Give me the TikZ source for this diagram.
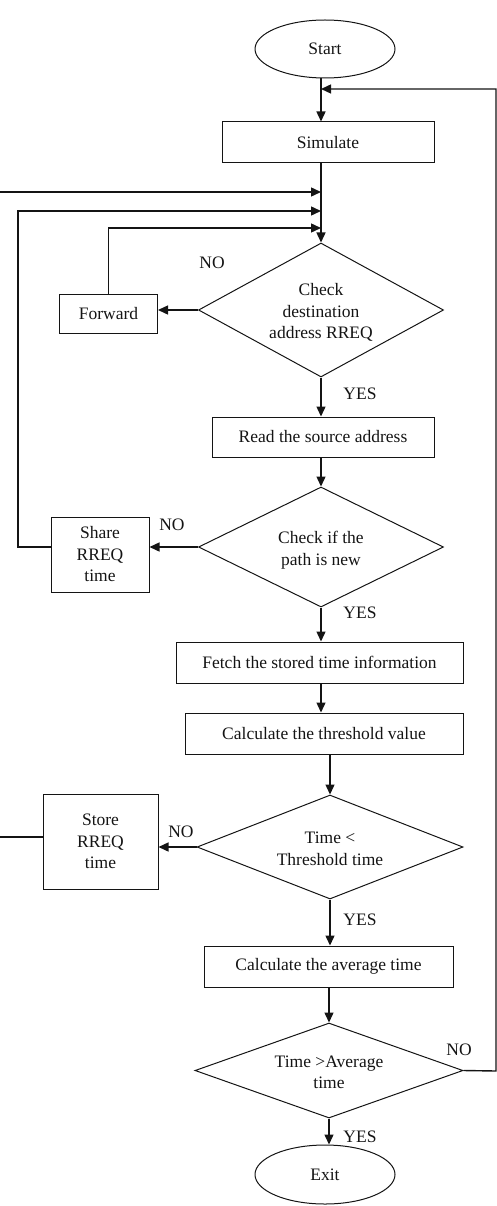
\documentclass[tikz,border=0pt]{standalone}
\usepackage{fontspec}
\setmainfont{Liberation Serif}
\usetikzlibrary{shapes.geometric, arrows.meta, positioning, calc}
\definecolor{Ink}{HTML}{141414}
\newcommand{\choicetext}[1]{\raisebox{-15pt}{\smash{\makebox[0pt]{\begin{tabular}{@{}c@{}}#1\end{tabular}}}}}

\begin{document}
\begin{tikzpicture}[x=1pt, y=-1pt,
    every node/.style={font=\fontsize{17.5}{21.5}\selectfont, text=Ink},
    procbox/.style={draw=Ink, line width=1pt, rectangle, inner sep=0pt, align=center},
    choice/.style={draw=Ink, line width=1pt, diamond, inner sep=0pt},
    terminal/.style={draw=Ink, line width=1pt, ellipse, inner sep=0pt},
    flow/.style={draw=Ink, line width=1.4pt, -{Triangle[length=10pt, width=9pt]}},
    answer/.style={inner sep=0pt}]
    \useasboundingbox (0, 0) rectangle (497, 1206);

    % Main column
    \node[terminal, minimum width=140, minimum height=58] (start) at (325, 49) {Start};
    \node[procbox, minimum width=212, minimum height=41] (sim) at (328, 142.5) {Simulate};
    \node[choice, minimum width=245, minimum height=134] (dest) at (321, 310) {\choicetext{Check\\destination\\address RREQ}};
    \node[procbox, minimum width=222, minimum height=40] (read) at (323, 437) {Read the source address};
    \node[choice, minimum width=245, minimum height=120] (path) at (321, 547) {\choicetext{Check if the\\path is new}};
    \node[procbox, minimum width=287, minimum height=41] (fetch) at (319.5, 662.5) {Fetch the stored time information};
    \node[procbox, minimum width=278, minimum height=41] (thresh) at (324, 733.5) {Calculate the threshold value};
    \node[choice, minimum width=266, minimum height=104] (below) at (330, 847) {\choicetext{Time <\\Threshold time}};
    \node[procbox, minimum width=249, minimum height=41] (avg) at (328.5, 966.5) {Calculate the average time};
    \node[choice, minimum width=268, minimum height=95] (above) at (329, 1070.5) {\choicetext{Time >Average\\time}};
    \node[terminal, minimum width=140, minimum height=59] (exit) at (325, 1174.5) {Exit};

    % Side boxes
    \node[procbox, minimum width=98, minimum height=39] (fwd) at (108.5, 313.5) {Forward};
    \node[procbox, minimum width=98, minimum height=75] (share) at (100, 554.5) {Share\\RREQ\\time};
    \node[procbox, minimum width=115, minimum height=95] (store) at (100.5, 841.5) {Store\\RREQ\\time};

    % Junctions on the trunk
    \coordinate (top) at (321, 89);
    \coordinate (m1) at (321, 192);
    \coordinate (m2) at (321, 211);
    \coordinate (m3) at (321, 228);
    \coordinate (sl) at (18, 547);
    \coordinate (tl) at (-3, 837);
    \coordinate (rl) at (496, 1071);

    \draw[flow] (start.south -| top) -- (sim.north -| top);
    \draw[flow] (sim.south -| dest.north) -- (dest.north);
    \draw[flow] (dest.west) -- (dest.west -| fwd.east);
    \draw[flow] (fwd.north) |- (m3);
    \draw[flow] (dest.south) -- (dest.south |- read.north);
    \draw[flow] (read.south -| path.north) -- (path.north);
    \draw[flow] (path.west) -- (path.west -| share.east);
    \draw[flow] (share.west |- sl) -- (sl) |- (m2);
    \draw[flow] (path.south) -- (path.south |- fetch.north);
    \draw[flow] (fetch.south -| path.south) -- (thresh.north -| path.south);
    \draw[flow] (thresh.south -| below.north) -- (below.north);
    \draw[flow] (below.west) -- (below.west -| store.east);
    \draw[flow] (store.west |- tl) -- (tl) |- (m1);
    \draw[flow] (below.south) -- (below.south |- avg.north);
    \draw[flow] (avg.south -| above.north) -- (above.north);
    \draw[flow] (above.south) -- (above.south |- exit.north);
    \draw[flow] (above.east) -- (rl) |- (top);

    % Answers
    \node[answer] (no1) at (212, 263) {NO};
    \node[answer] (yes1) at (360, 394) {YES};
    \node[answer] (no2) at (172, 525) {NO};
    \node[answer] (yes2) at (360, 613) {YES};
    \node[answer] (no3) at (181, 832) {NO};
    \node[answer] (yes3) at (360, 920) {YES};
    \node[answer] (no4) at (459, 1050) {NO};
    \node[answer] (yes4) at (360, 1137) {YES};
\end{tikzpicture}
\end{document}
